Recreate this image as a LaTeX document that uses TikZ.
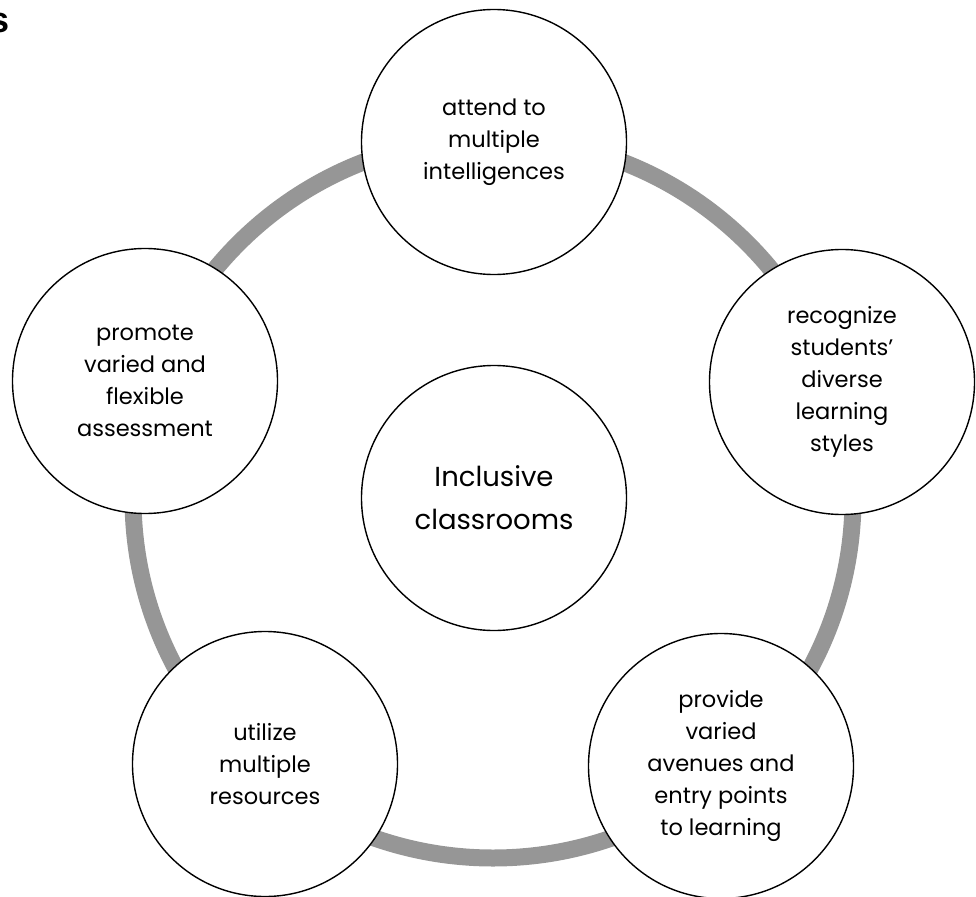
\documentclass[tikz,border=0pt]{standalone}
\usepackage{fontspec}
\setmainfont{Poppins}
\newfontfamily\headfont{Liberation Sans}
\begin{document}
\begin{tikzpicture}[x=1pt,y=-1pt,
    ring/.style={draw=gray!82,line width=17pt},
    idea/.style={circle,draw,fill=white,line width=1.4pt,minimum size=265pt,
      inner sep=0pt,align=center,font=\fontsize{22.5}{32}\selectfont},
    hubidea/.style={idea,font=\fontsize{27.5}{43}\selectfont}]
  \useasboundingbox (0,0) rectangle (976,896);
  \clip (0,0) rectangle (976,896);
  \node[font=\headfont\bfseries\fontsize{36}{36}\selectfont,anchor=base east,inner sep=0pt] (head) at (10,33) {s};
  \coordinate (hub) at (493,498);
  \draw[ring] (hub) circle[radius=360];
  \node[hubidea] (incl) at (494,498) {Inclusive\\classrooms};
  \node[idea] (top) at (494,142) {attend to\\multiple\\intelligences};
  \node[idea] (right) at (842,382) {recognize\\students’\\diverse\\learning\\styles};
  \node[idea] (botright) at (721,766) {provide\\varied\\avenues and\\entry points\\to learning};
  \node[idea] (botleft) at (265,764) {utilize\\multiple\\resources};
  \node[idea] (left) at (145,381) {promote\\varied and\\flexible\\assessment};
\end{tikzpicture}
\end{document}
